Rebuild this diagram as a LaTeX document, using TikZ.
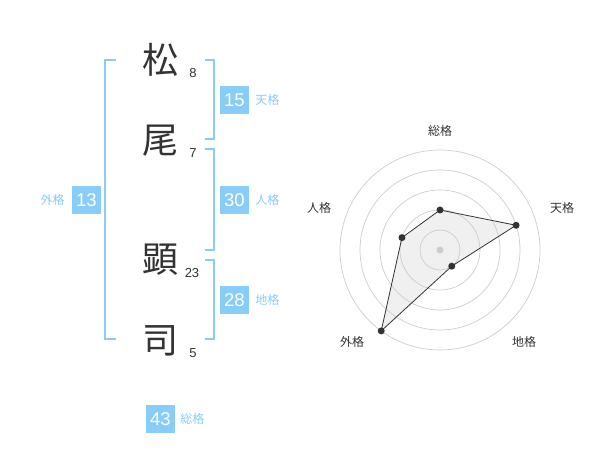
\documentclass[tikz,border=0pt]{standalone}
\usepackage{fontspec}
\usetikzlibrary{positioning}
\setmainfont{Noto Sans CJK JP}
\newfontfamily\numfont{Liberation Sans}
\definecolor{kakublue}{HTML}{88CCF8}
\definecolor{inkgray}{HTML}{333333}
\definecolor{ringgray}{HTML}{CCCCCC}
\definecolor{areagray}{HTML}{F0F0F0}
\begin{document}
\begin{tikzpicture}[x=1pt, y=-1pt]
        \tikzstyle{kanji}=[text=inkgray, font=\fontsize{36}{36}\selectfont, inner sep=0pt]
        \tikzstyle{strokes}=[text=inkgray, font=\numfont\fontsize{13}{13}\selectfont, inner sep=0pt]
        \tikzstyle{score}=[fill=kakublue, text=white, font=\numfont\fontsize{18.5}{18.5}\selectfont, minimum width=29pt, minimum height=28pt, inner sep=0pt]
        \tikzstyle{kaku}=[text=kakublue, font=\fontsize{12}{12}\selectfont, inner sep=0pt]
        \tikzstyle{bracket}=[draw=kakublue, line width=2pt]
        \tikzstyle{axislabel}=[text=inkgray, font=\fontsize{12}{12}\selectfont, inner sep=0pt]

        \useasboundingbox (0,0) rectangle (600,470);

        % name
        \node[kanji](k1) at (160,60){松};
        \node[kanji](k2) at (160,141){尾};
        \node[kanji](k3) at (160,260){顕};
        \node[kanji](k4) at (160,341){司};
        \node[strokes](s1) at (193,73){8};
        \node[strokes](s2) at (193,153){7};
        \node[strokes](s3) at (192,273){23};
        \node[strokes](s4) at (193,353){5};

        % brackets
        \draw[bracket] (116,60) -- (105,60) -- (105,339) -- (116,339);
        \draw[bracket] (205,60) -- (214,60) -- (214,139) -- (205,139);
        \draw[bracket] (205,149) -- (214,149) -- (214,250) -- (205,250);
        \draw[bracket] (205,260) -- (214,260) -- (214,339) -- (205,339);

        \node[score](ten) at (234.5,100){15};
        \node[kaku,right=6pt of ten](tenl){天格};
        \node[score](jin) at (234.5,200){30};
        \node[kaku,right=6pt of jin](jinl){人格};
        \node[score](chi) at (234.5,300){28};
        \node[kaku,right=6pt of chi](chil){地格};
        \node[score](gai) at (86.5,200){13};
        \node[kaku,left=7pt of gai](gail){外格};
        \node[score](sou) at (160.5,419){43};
        \node[kaku,right=5pt of sou](soul){総格};

        % radar
        \begin{scope}[shift={(440,250)}, yscale=-1]
        \coordinate (rsou) at (90:40);
        \coordinate (rten) at (18:80);
        \coordinate (rchi) at (-54:20);
        \coordinate (rgai) at (234:100);
        \coordinate (rjin) at (162:40);
        \fill[areagray] (rsou) -- (rten) -- (rchi) -- (rgai) -- (rjin) -- cycle;
        \foreach \r in {20,40,...,100}
            \draw[ringgray, line width=0.7pt] (0,0) circle (\r pt);
        \draw[inkgray, line width=0.8pt] (rsou) -- (rten) -- (rchi) -- (rgai) -- (rjin) -- cycle;
        \foreach \p in {rsou,rten,rchi,rgai,rjin}
            \fill[inkgray] (\p) circle (3.5pt);
        \fill[ringgray] (0,0) circle (3.5pt);

        \node[axislabel](asou) at (0,119){総格};
        \node[axislabel](aten) at (122,42){天格};
        \node[axislabel](achi) at (84,-92){地格};
        \node[axislabel](agai) at (-88,-92){外格};
        \node[axislabel](ajin) at (-121,42){人格};
        \end{scope}
\end{tikzpicture}
\end{document}
